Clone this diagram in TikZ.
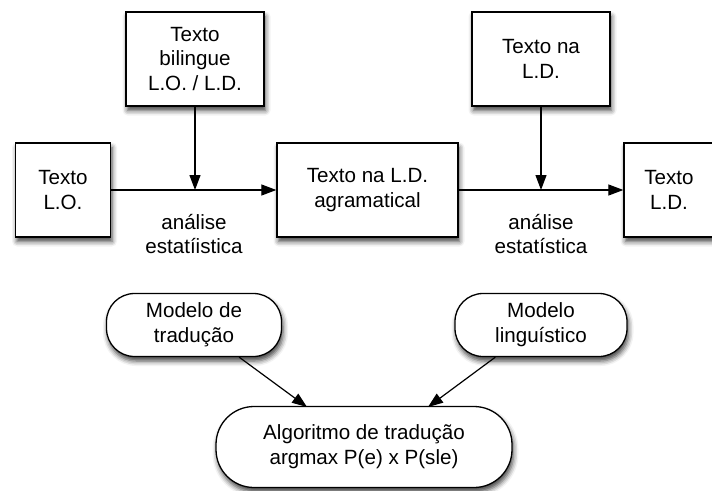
\documentclass[tikz,border=0pt]{standalone}
\usepackage{fontspec}
\setmainfont{Liberation Sans}
\usetikzlibrary{arrows.meta,shadows.blur}
\begin{document}
\begin{tikzpicture}[x=1pt,y=-1pt,
  every node/.style={font=\fontsize{20.6}{24.8}\selectfont, align=center},
  shad/.style={blur shadow={shadow xshift=1.5pt, shadow yshift=-4.5pt, shadow blur radius=5pt, shadow opacity=75}},
  sqbox/.style={draw=black, line width=1.3pt, fill=white, shad, inner sep=0pt},
  rbox/.style={draw=black, line width=1.3pt, fill=white, shad, inner sep=0pt, rounded corners=28pt},
  arr/.style={line width=1.2pt, -{Triangle[length=15pt,width=11pt]}},
  lab/.style={inner sep=0pt}
]
\useasboundingbox (0,0) rectangle (712,490);
% top boxes
\node[sqbox, minimum width=138pt, minimum height=94pt] (bil) at (195,59) {Texto\\bilingue\\L.O. / L.D.};
\node[sqbox, minimum width=138pt, minimum height=94pt] (tld) at (541,59) {Texto na\\L.D.};
% middle row
\node[sqbox, minimum width=95pt, minimum height=94pt] (lo) at (63,190) {Texto\\L.O.};
\node[sqbox, minimum width=181pt, minimum height=94pt] (agr) at (367.5,190) {Texto na L.D.\\agramatical};
\node[sqbox, minimum width=90pt, minimum height=94pt] (ld) at (669,190) {Texto\\L.D.};
% bottom
\node[rbox, minimum width=175pt, minimum height=63pt] (mt) at (194,325) {Modelo de\\tradução};
\node[rbox, minimum width=172pt, minimum height=63pt] (ml) at (541,325) {Modelo\\linguístico};
\node[rbox, rounded corners=38pt, minimum width=296pt, minimum height=81pt] (alg) at (364,447) {Algoritmo de tradução\\argmax P(e) x P(sle)};
% labels
\node[lab] (l1) at (194,234) {análise\\estatíistica};
\node[lab] (l2) at (541,234) {análise\\estatística};
% connectors
\draw[arr] (lo.east) -- (agr.west);
\draw[arr] (agr.east) -- (ld.west);
\coordinate (j1) at (bil.south |- lo.east);
\coordinate (j2) at (tld.south |- agr.east);
\draw[arr] (bil.south) -- (j1);
\draw[arr] (tld.south) -- (j2);
\draw[arr] (mt.south east) ++(-43pt,0) -- (307,407);
\draw[arr] (ml.south west) ++(41pt,0) -- (428,407);
\end{tikzpicture}
\end{document}
